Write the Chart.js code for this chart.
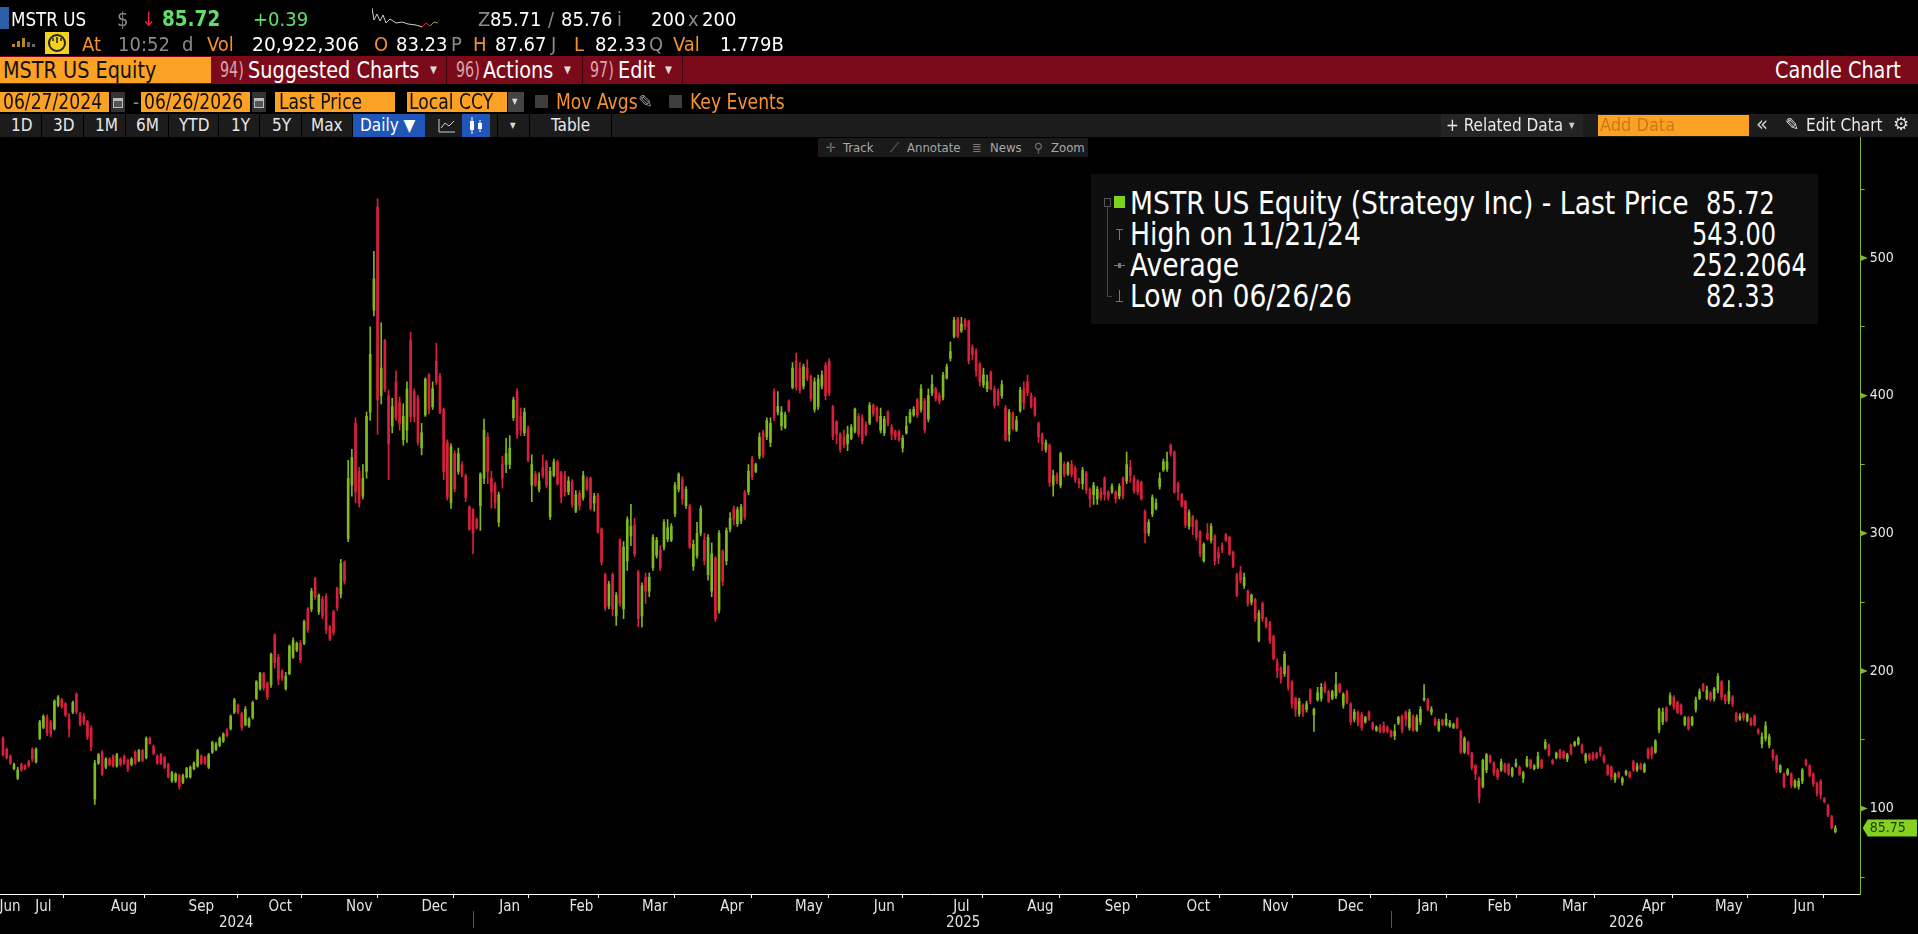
<!DOCTYPE html>
<html><head><meta charset="utf-8">
<style>
html,body{margin:0;padding:0;background:#000;width:1918px;height:934px;overflow:hidden}
#c{position:absolute;left:0;top:0}
.t{position:absolute;white-space:pre;font-family:"Liberation Sans Narrow","DejaVu Sans Condensed",sans-serif;color:#fff;line-height:1;transform-origin:left center}
.b{position:absolute}
.o{color:#f5922b}.g{color:#8a8a8a}.k{color:#111}
.f{font-size:20px}
.m{font-size:17px;color:#e8e8e8}
.s{font-size:13px;color:#a8a8a8}
.lb{font-size:32px;color:#fff;transform:scaleX(.925)}
.lv{font-size:32px;color:#fff;transform:scaleX(.835)}
.n{font-size:22px;color:#d9a3ab;transform:scaleX(.72)}
.h{font-size:23px;transform:scaleX(.93)}
.d{font-size:21px;transform:scaleX(.91)}
.sep{position:absolute;top:114px;width:1px;height:23px;background:#000}
</style></head><body>
<canvas id="c" width="1918" height="934"></canvas>

<!-- quote rows -->
<div class="b" style="left:0;top:7px;width:9px;height:22px;background:#2a5fa8"></div>
<span class="t f" style="left:11px;top:9px;transform:scaleX(.93)">MSTR US</span>
<span class="t f g" style="left:117px;top:9px">$</span>
<span class="t f" style="left:141px;top:9px;color:#e8203e">↓</span>
<span class="t f" style="left:162px;top:8px;font-weight:bold;color:#5fe06a;font-size:22px;transform:scaleX(.93)">85.72</span>
<span class="t f" style="left:253px;top:9px;color:#5fe06a">+0.39</span>
<svg class="b" style="left:372px;top:6px" width="72" height="24"><polyline fill="none" stroke="#ccc" stroke-width="1" points="0,2 2,14 5,8 8,15 11,9 14,17 18,13 24,17 30,16 36,18 44,19 50,21"/><polyline fill="none" stroke="#e8203e" stroke-width="1" points="50,21 54,17 58,20"/><polyline fill="none" stroke="#6dbb2a" stroke-width="1" points="58,20 62,16 66,17"/></svg>
<span class="t f g" style="left:478px;top:9px">Z</span>
<span class="t f" style="left:490px;top:9px">85.71</span>
<span class="t f g" style="left:548px;top:9px">/</span>
<span class="t f" style="left:561px;top:9px">85.76</span>
<span class="t f g" style="left:617px;top:9px">i</span>
<span class="t f" style="left:651px;top:9px">200</span>
<span class="t f g" style="left:688px;top:9px">x</span>
<span class="t f" style="left:702px;top:9px">200</span>

<svg class="b" style="left:12px;top:36px" width="24" height="12"><rect x="0" y="8" width="3" height="3" fill="#b8881e"/><rect x="5" y="5" width="3" height="6" fill="#b8881e"/><rect x="10" y="2" width="3" height="9" fill="#b8881e"/><rect x="15" y="6" width="3" height="5" fill="#666"/><rect x="20" y="8" width="3" height="3" fill="#666"/></svg>
<svg class="b" style="left:45px;top:32px" width="24" height="22"><rect width="24" height="22" fill="#f2d21f"/><circle cx="12" cy="11" r="8" fill="none" stroke="#222" stroke-width="2"/><path d="M12 11V5M8 9V6M16 9V6" stroke="#222" stroke-width="1.5"/></svg>
<span class="t f o" style="left:82px;top:34px">At</span>
<span class="t f g" style="left:118px;top:34px">10:52</span>
<span class="t f g" style="left:182px;top:34px">d</span>
<span class="t f o" style="left:207px;top:34px">Vol</span>
<span class="t f" style="left:252px;top:34px;transform:scaleX(1.04)">20,922,306</span>
<span class="t f o" style="left:374px;top:34px">O</span>
<span class="t f" style="left:396px;top:34px">83.23</span>
<span class="t f g" style="left:451px;top:34px">P</span>
<span class="t f o" style="left:473px;top:34px">H</span>
<span class="t f" style="left:495px;top:34px">87.67</span>
<span class="t f g" style="left:551px;top:34px">J</span>
<span class="t f o" style="left:574px;top:34px">L</span>
<span class="t f" style="left:595px;top:34px">82.33</span>
<span class="t f g" style="left:649px;top:34px">Q</span>
<span class="t f o" style="left:673px;top:34px">Val</span>
<span class="t f" style="left:720px;top:34px">1.779B</span>

<!-- red bar -->
<div class="b" style="left:0;top:56px;width:1918px;height:28px;background:#7b0b1b"></div>
<div class="b" style="left:0;top:57px;width:211px;height:26px;background:#fba124"></div>
<span class="t k h" style="left:3px;top:59px">MSTR US Equity</span>
<span class="t n" style="left:220px;top:59px">94)</span>
<span class="t h" style="left:248px;top:59px">Suggested Charts</span>
<span class="t" style="left:430px;top:65px;font-size:10px;color:#ddd">▼</span>
<div class="b" style="left:446px;top:56px;width:1px;height:28px;background:#3c0410"></div>
<span class="t n" style="left:456px;top:59px">96)</span>
<span class="t h" style="left:483px;top:59px">Actions</span>
<span class="t" style="left:564px;top:65px;font-size:10px;color:#ddd">▼</span>
<div class="b" style="left:582px;top:56px;width:1px;height:28px;background:#3c0410"></div>
<span class="t n" style="left:590px;top:59px">97)</span>
<span class="t h" style="left:618px;top:59px">Edit</span>
<span class="t" style="left:665px;top:65px;font-size:10px;color:#ddd">▼</span>
<div class="b" style="left:682px;top:56px;width:1px;height:28px;background:#3c0410"></div>
<span class="t h" style="left:1775px;top:59px">Candle Chart</span>

<!-- date row -->
<div class="b" style="left:0;top:92px;width:109px;height:20px;background:#fba124"></div>
<span class="t k d" style="left:3px;top:92px">06/27/2024</span>
<div class="b" style="left:111px;top:92px;width:14px;height:20px;background:#333"></div>
<svg class="b" style="left:113px;top:96px" width="10" height="12"><rect x="0" y="2" width="10" height="10" fill="#bbb"/><rect x="1" y="5" width="8" height="6" fill="#555"/></svg>
<span class="t g" style="left:133px;top:93px;font-size:19px">-</span>
<div class="b" style="left:141px;top:92px;width:109px;height:20px;background:#fba124"></div>
<span class="t k d" style="left:144px;top:92px">06/26/2026</span>
<div class="b" style="left:252px;top:92px;width:14px;height:20px;background:#333"></div>
<svg class="b" style="left:254px;top:96px" width="10" height="12"><rect x="0" y="2" width="10" height="10" fill="#bbb"/><rect x="1" y="5" width="8" height="6" fill="#555"/></svg>
<div class="b" style="left:275px;top:92px;width:120px;height:20px;background:#fba124"></div>
<span class="t k d" style="left:279px;top:92px">Last Price</span>
<div class="b" style="left:407px;top:92px;width:100px;height:20px;background:#fba124"></div>
<span class="t k d" style="left:409px;top:92px">Local CCY</span>
<div class="b" style="left:508px;top:92px;width:16px;height:20px;background:#444"></div>
<span class="t" style="left:512px;top:98px;font-size:8px;color:#ddd">▼</span>
<div class="b" style="left:535px;top:95px;width:13px;height:13px;background:#3e3e3e"></div>
<span class="t o d" style="left:556px;top:92px">Mov Avgs</span>
<span class="t" style="left:638px;top:93px;font-size:18px;color:#999;font-family:'DejaVu Sans'">✎</span>
<div class="b" style="left:669px;top:95px;width:13px;height:13px;background:#3e3e3e"></div>
<span class="t o d" style="left:690px;top:92px">Key Events</span>

<!-- tool row -->
<div class="b" style="left:0;top:114px;width:1918px;height:23px;background:#1c1c1c"></div>
<div class="sep" style="left:41px"></div><div class="sep" style="left:83px"></div><div class="sep" style="left:125px"></div><div class="sep" style="left:168px"></div><div class="sep" style="left:218px"></div><div class="sep" style="left:259px"></div><div class="sep" style="left:301px"></div><div class="sep" style="left:352px"></div><div class="sep" style="left:497px"></div><div class="sep" style="left:529px"></div><div class="sep" style="left:611px"></div>
<span class="t m" style="left:11px;top:117px">1D</span>
<span class="t m" style="left:53px;top:117px">3D</span>
<span class="t m" style="left:95px;top:117px">1M</span>
<span class="t m" style="left:136px;top:117px">6M</span>
<span class="t m" style="left:179px;top:117px">YTD</span>
<span class="t m" style="left:231px;top:117px">1Y</span>
<span class="t m" style="left:272px;top:117px">5Y</span>
<span class="t m" style="left:311px;top:117px">Max</span>
<div class="b" style="left:353px;top:114px;width:72px;height:23px;background:#1f56b8"></div>
<span class="t m" style="left:360px;top:117px;color:#fff">Daily ▼</span>
<svg class="b" style="left:438px;top:118px" width="18" height="15"><path d="M1 1V14H17" fill="none" stroke="#ccc"/><path d="M3 10L7 5L11 8L16 3" fill="none" stroke="#ccc"/></svg>
<div class="b" style="left:462px;top:114px;width:28px;height:23px;background:#1f56b8"></div>
<svg class="b" style="left:467px;top:116px" width="18" height="19"><path d="M5 1V18M13 4V16" stroke="#fff"/><rect x="3" y="5" width="4" height="9" fill="#fff"/><rect x="11" y="7" width="4" height="6" fill="#fff"/></svg>
<span class="t" style="left:510px;top:122px;font-size:8px;color:#ddd">▼</span>
<span class="t m" style="left:551px;top:117px">Table</span>
<div class="b" style="left:1441px;top:114px;width:142px;height:23px;background:#242424"></div>
<span class="t m" style="left:1446px;top:117px">+ Related Data</span>
<span class="t" style="left:1569px;top:122px;font-size:8px;color:#ccc">▼</span>
<div class="b" style="left:1598px;top:115px;width:151px;height:21px;background:#fba124"></div>
<span class="t" style="left:1600px;top:116px;font-size:18px;color:#c97a18">Add Data</span>
<span class="t" style="left:1756px;top:113px;font-size:22px;color:#ccc">«</span>
<span class="t" style="left:1785px;top:116px;font-size:17px;color:#ddd;font-family:'DejaVu Sans'">✎</span>
<span class="t m" style="left:1806px;top:117px">Edit Chart</span>
<span class="t" style="left:1893px;top:115px;font-size:18px;color:#ddd;font-family:'DejaVu Sans'">⚙</span>

<!-- mini toolbar -->
<div class="b" style="left:818px;top:138px;width:270px;height:19px;background:#1a1a1a"></div>
<span class="t s" style="left:826px;top:141px;color:#777">✛</span>
<span class="t s" style="left:843px;top:141px">Track</span>
<span class="t s" style="left:890px;top:141px;color:#777">⟋</span>
<span class="t s" style="left:907px;top:141px">Annotate</span>
<span class="t s" style="left:972px;top:141px;color:#777">≣</span>
<span class="t s" style="left:990px;top:141px">News</span>
<span class="t s" style="left:1034px;top:141px;color:#777">⚲</span>
<span class="t s" style="left:1051px;top:141px">Zoom</span>

<!-- legend -->
<div class="b" style="left:1091px;top:174px;width:727px;height:150px;background:#0e0e0e"></div>
<div class="b" style="left:1114px;top:196px;width:11px;height:12px;background:#7ed321"></div>
<div class="b" style="left:1104px;top:198px;width:7px;height:9px;border:1px solid #555;box-sizing:border-box"></div>
<div class="b" style="left:1107px;top:207px;width:1px;height:89px;background:#444"></div>
<div class="b" style="left:1107px;top:296px;width:5px;height:1px;background:#444"></div>
<div class="b" style="left:1119px;top:229px;width:1px;height:11px;background:#777"></div><div class="b" style="left:1116px;top:229px;width:7px;height:1px;background:#777"></div>
<div class="b" style="left:1114px;top:265px;width:11px;height:1px;background:#777"></div><div class="b" style="left:1118px;top:263px;width:3px;height:5px;background:#777"></div>
<div class="b" style="left:1119px;top:290px;width:1px;height:11px;background:#777"></div><div class="b" style="left:1116px;top:301px;width:7px;height:1px;background:#777"></div>
<span class="t lb" style="left:1130px;top:187px">MSTR US Equity (Strategy Inc) - Last Price</span>
<span class="t lv" style="left:1706px;top:187px">85.72</span>
<span class="t lb" style="left:1130px;top:218px">High on 11/21/24</span>
<span class="t lv" style="left:1692px;top:218px">543.00</span>
<span class="t lb" style="left:1130px;top:249px">Average</span>
<span class="t lv" style="left:1692px;top:249px">252.2064</span>
<span class="t lb" style="left:1130px;top:280px">Low on 06/26/26</span>
<span class="t lv" style="left:1706px;top:280px">82.33</span>

<script src="https://cdn.jsdelivr.net/npm/chart.js@4/dist/chart.umd.min.js"></script>
<script>
const opens=[
151,143,138,129,122,132,131,134,143,134,
151,159,166,163,158,175,179,176,165,170,
183,169,167,163,158,107,133,141,130,136,
138,131,136,138,135,132,141,135,142,137,
151,145,138,139,137,132,120,120,124,119,
123,123,129,131,138,137,130,141,143,146,
149,157,158,170,175,169,161,160,166,180,
187,198,191,190,226,210,200,187,198,210,
215,220,220,245,245,267,243,252,254,232,
243,260,256,279,296,335,380,345,327,345,
388,462,537,400,440,400,378,410,395,368,
375,440,403,398,362,386,415,392,425,414,
390,366,322,358,345,350,342,319,317,310,
320,340,370,340,335,308,350,350,350,384,
403,385,373,376,335,343,332,348,352,312,
342,352,344,342,330,337,316,329,326,339,
340,322,328,303,270,247,270,240,295,245,
280,298,306,272,240,268,258,275,284,288,
290,296,295,314,332,339,320,320,276,284,
300,295,270,258,282,244,287,280,303,318,
307,309,330,330,354,345,356,373,370,366,
403,388,378,377,396,406,425,420,407,420,
414,390,392,407,422,425,392,381,372,370,
365,369,374,385,384,379,380,393,391,375,
373,388,377,374,374,362,373,381,386,397,
390,396,383,402,405,400,399,413,427,443,
456,447,455,454,435,432,423,408,405,417,
405,403,400,391,372,387,375,389,405,410,
400,398,380,372,361,364,335,342,335,350,
343,350,347,338,336,344,332,328,325,330,
340,330,330,330,327,340,338,348,340,338,
337,316,300,314,318,334,346,347,364,359,
336,328,323,305,312,309,301,280,300,295,
298,286,291,299,297,286,270,272,262,258,
250,252,222,249,238,235,225,206,202,198,
203,192,180,169,175,172,186,168,179,180,
190,185,180,182,190,175,185,176,165,170,
168,163,170,162,157,159,160,159,156,153,
162,167,170,159,167,157,163,179,179,170,
165,157,164,161,160,159,165,156,141,148,
140,131,122,116,128,138,133,128,128,132,
132,124,131,130,122,131,135,129,130,135,
144,146,135,137,142,141,136,146,146,147,
146,135,139,139,140,144,138,131,130,121,
126,119,125,126,134,128,132,127,143,144,
141,157,163,173,176,181,177,175,161,166,
161,172,180,190,180,184,180,186,192,182,
178,181,169,165,169,164,165,167,157,147,
151,146,142,138,127,125,125,125,116,116,
120,135,131,125,118,120,107,102,94,83.23];
const highs=[
152,144,139,133,130,133,132,135,144,144,
164,168,168,164,179,182,180,177,169,178,
184,170,169,164,160,135,140,142,137,137,
139,140,137,139,136,137,142,143,143,152,
152,146,139,140,138,133,127,126,125,125,
130,131,134,143,139,138,140,149,148,152,
155,158,168,180,176,170,174,166,178,193,
199,199,192,213,227,212,201,199,219,224,
221,222,237,246,260,268,256,254,256,233,
244,261,281,280,353,361,384,348,350,388,
450,505,543,453,441,404,398,418,399,394,
410,446,405,400,380,413,416,410,438,416,
391,368,365,360,362,352,343,320,318,311,
344,383,373,345,337,330,356,369,371,399,
405,391,391,378,357,345,344,357,353,348,
354,353,345,345,341,339,331,331,345,341,
341,329,329,304,271,265,271,257,296,294,
312,321,311,273,264,271,271,299,297,291,
310,310,307,337,344,341,334,321,295,308,
320,300,299,293,283,302,288,304,315,320,
319,321,331,350,356,351,373,375,384,384,
405,403,392,388,397,424,431,424,423,426,
415,413,415,418,424,427,393,382,373,375,
378,379,391,387,386,381,395,394,392,391,
385,389,379,375,375,371,385,390,392,398,
408,398,405,415,406,402,417,423,439,457,
457,457,456,455,437,434,424,420,415,418,
407,405,411,393,390,388,385,406,410,415,
402,399,381,373,368,365,346,344,359,352,
352,353,349,340,348,345,333,337,334,333,
341,331,336,331,336,341,359,353,342,339,
338,317,310,328,325,344,354,359,365,360,
337,329,324,317,313,310,302,293,307,307,
299,290,293,300,298,287,271,276,271,259,
256,253,244,250,239,236,226,209,203,214,
204,193,181,180,176,178,187,173,188,191,
192,186,186,199,191,184,186,177,172,171,
170,167,171,163,160,161,163,160,157,161,
167,168,171,172,168,168,174,190,180,174,
166,165,165,169,164,162,166,157,152,149,
141,132,123,136,140,139,134,129,136,133,
133,130,136,131,127,138,136,132,141,136,
150,147,136,141,143,142,140,147,149,152,
147,140,140,141,141,145,139,132,131,126,
127,123,128,127,135,133,133,133,144,145,
150,173,173,174,184,182,178,176,167,167,
167,181,187,191,189,185,188,198,193,183,
193,182,170,169,170,169,166,168,158,155,
163,154,143,139,132,126,129,126,121,122,
129,136,132,126,119,121,108,103,95,87.67];
const lows=[
138,136,132,128,121,127,128,130,134,133,
150,158,153,152,157,174,173,167,152,169,
169,160,161,150,142,103,132,124,129,131,
130,130,131,132,127,131,132,134,134,136,
147,139,132,132,129,122,119,119,114,118,
122,122,128,130,132,132,129,140,142,145,
148,152,157,169,169,157,160,159,165,179,
186,186,179,188,202,190,193,186,197,209,
214,206,219,228,243,252,241,238,227,222,
226,244,253,263,294,327,322,319,325,340,
382,458,372,394,403,339,373,382,375,364,
366,381,381,364,357,385,387,390,408,387,
339,324,318,330,343,341,323,302,285,303,
302,336,336,318,318,305,333,344,347,382,
369,371,371,352,323,334,330,340,333,310,
341,335,322,327,328,319,315,317,324,331,
317,316,300,277,244,245,240,233,247,238,
273,291,283,232,232,249,254,273,282,273,
288,294,294,312,330,321,318,289,273,282,
298,277,266,254,236,242,262,277,301,306,
305,307,310,328,339,344,354,355,368,363,
382,386,375,376,388,405,404,402,405,411,
396,388,390,405,397,400,368,365,359,362,
360,368,373,370,365,371,379,385,381,373,
371,378,368,368,367,359,372,380,385,384,
388,373,381,400,396,394,397,412,425,442,
442,446,448,423,426,414,407,406,403,404,
391,393,398,367,367,375,374,388,390,400,
391,385,366,360,359,334,327,336,333,341,
342,341,337,333,332,329,319,321,321,324,
324,324,329,322,325,325,336,337,329,328,
324,293,298,312,317,332,345,345,356,329,
324,319,304,303,299,295,283,279,295,293,
277,278,286,294,284,275,254,264,260,247,
248,236,221,236,231,220,208,195,191,196,
186,173,167,167,167,170,176,156,178,178,
184,177,179,180,184,173,176,161,163,160,
157,162,164,157,156,155,155,155,152,150,
161,155,160,157,156,156,161,178,171,168,
160,156,160,160,159,158,158,140,140,139,
128,121,104,115,126,133,124,121,127,126,
124,123,130,124,119,130,129,128,129,129,
143,138,132,136,136,136,134,139,145,146,
140,133,135,135,136,138,133,124,121,119,
122,117,124,122,127,127,128,126,136,136,
140,155,161,163,175,172,169,168,160,157,
160,170,179,185,179,178,178,184,179,176,
176,174,163,164,164,163,160,160,154,144,
149,144,135,126,126,115,124,115,115,114,
118,131,123,116,109,107,104,94,85,82.33];
const closes=[
139,137,133,132,128,128,129,131,136,143,
163,167,155,154,178,181,174,168,158,177,
170,161,163,152,145,133,139,125,136,132,
131,139,132,133,129,136,133,142,135,151,
147,140,133,133,130,123,126,125,116,124,
129,130,133,142,133,133,139,148,147,151,
154,153,167,179,170,159,172,165,177,192,
198,188,181,212,206,194,195,196,218,222,
220,208,236,230,258,254,255,240,230,223,
228,246,278,265,340,355,330,322,340,385,
430,485,397,420,405,365,392,384,380,385,
405,385,385,366,373,412,390,405,410,388,
345,326,363,332,358,342,326,303,300,304,
343,375,345,330,322,328,340,358,362,397,
372,375,388,353,350,335,338,342,335,345,
352,336,326,330,338,321,328,320,342,332,
318,327,301,279,246,263,245,255,249,290,
310,305,285,238,262,258,268,297,295,275,
308,304,305,335,343,325,332,290,292,300,
318,280,297,285,238,300,265,302,311,310,
317,319,312,345,341,350,370,357,382,380,
384,392,388,386,389,420,406,404,421,413,
398,410,412,415,400,402,370,372,361,364,
372,377,390,372,367,372,393,387,382,385,
383,380,372,370,368,369,378,388,390,386,
405,375,400,408,398,396,415,421,432,455,
443,452,450,425,430,418,410,415,410,405,
393,396,408,368,388,376,382,404,395,402,
392,386,370,365,366,337,342,338,358,343,
351,343,339,336,346,331,325,335,332,326,
328,326,334,325,334,327,350,342,331,330,
325,300,308,326,322,340,352,352,358,330,
330,320,306,315,305,297,285,292,296,305,
280,282,288,295,285,276,255,266,268,249,
255,238,242,238,232,222,209,200,194,212,
188,176,172,178,170,176,178,172,184,188,
185,178,185,190,185,183,177,163,170,162,
159,166,165,158,159,156,156,156,152,156,
166,157,165,170,157,166,172,180,172,172,
161,163,161,165,162,161,159,141,151,140,
130,125,108,135,139,134,126,123,134,127,
125,129,133,125,126,136,130,131,138,130,
148,139,133,140,137,137,139,140,148,151,
141,139,136,136,137,141,134,125,123,125,
123,122,127,123,128,131,129,132,137,139,
149,172,170,164,182,174,170,169,166,158,
166,179,185,186,186,179,187,196,181,178,
185,176,164,167,166,168,161,161,155,152,
160,152,137,128,131,116,128,117,120,120,
128,132,124,118,111,110,105,95,86,85.72];

// x axis: month boundaries (index of last session of the month) and label centres
const monthEnds=[0,22,44,64,87,107,128,148,167,188,209,230,250,272,293,314,337,356,378,398,417,439,460,480,501];
const monthNames=['Jul','Aug','Sep','Oct','Nov','Dec','Jan','Feb','Mar','Apr','May','Jun','Jul','Aug','Sep','Oct','Nov','Dec','Jan','Feb','Mar','Apr','May','Jun'];
const firstLabel={at:1.9,text:'Jun'};
const yearLabels=[['2024',63.5],['2025',261.5],['2026',442]];
const yearSeparators=[128,378];
const yTicks=[50,100,150,200,250,300,350,400,450,500,550];
const lastFlag=85.75;

const RED='#d81f3d',GREEN='#7fb81f',AXISG='#7fb82a';
const idx=opens.map((_,i)=>i);
const colours=idx.map(i=>closes[i]>=opens[i]?GREEN:RED);

// build tick list
const tickInfo=new Map();
monthEnds.forEach(v=>tickInfo.set(v,{label:'',mark:true}));
tickInfo.set(firstLabel.at,{label:firstLabel.text,mark:false});
monthNames.forEach((n,k)=>{tickInfo.set((monthEnds[k]+monthEnds[k+1])/2,{label:n,mark:false});});
yearLabels.forEach(([y,v])=>{tickInfo.set(v,{label:['',y],mark:false});});
const xTickValues=[...tickInfo.keys()].sort((a,b)=>a-b);

const FONT='"Liberation Sans Narrow","DejaVu Sans Condensed",sans-serif';
const decor={id:'decor',
 afterDraw(ch){
  const c=ch.ctx,sy=ch.scales.y,sx=ch.scales.x,ax=sx.right;
  c.save();
  c.fillStyle=AXISG;
  yTicks.filter(v=>v%100===0).forEach(v=>{const y=sy.getPixelForValue(v);
    c.beginPath();c.moveTo(ax,y-3);c.lineTo(ax+7,y);c.lineTo(ax,y+3);c.closePath();c.fill();});
  c.strokeStyle='#555';c.lineWidth=1;
  yearSeparators.forEach(v=>{const x=Math.round(sx.getPixelForValue(v))+.5;
    c.beginPath();c.moveTo(x,911);c.lineTo(x,928);c.stroke();});
  const y=sy.getPixelForValue(lastFlag);
  c.fillStyle='#86d01f';
  c.beginPath();c.moveTo(ax+2,y);c.lineTo(ax+7,y-8.5);c.lineTo(1917,y-8.5);c.lineTo(1917,y+8.5);c.lineTo(ax+7,y+8.5);c.closePath();c.fill();
  c.fillStyle='#1c3a06';c.font='14px '+FONT;
  c.textBaseline='middle';c.textAlign='left';c.fillText(lastFlag.toFixed(2),ax+9,y+.5);
  c.restore();
 }};

new Chart(document.getElementById('c'),{
 type:'bar',
 data:{datasets:[
  {label:'Wick',data:idx.map(i=>({x:i,y:[lows[i],highs[i]]})),backgroundColor:colours,barThickness:1,grouped:false,order:2},
  {label:'Body',data:idx.map(i=>({x:i,y:[opens[i],closes[i]]})),backgroundColor:colours,barThickness:2,grouped:false,order:1}
 ]},
 plugins:[decor],
 options:{
  responsive:false,animation:false,devicePixelRatio:1,
  layout:{padding:{top:137,left:0,right:0,bottom:0}},
  plugins:{legend:{display:false},tooltip:{enabled:false}},
  scales:{
   x:{type:'linear',min:-0.82,max:505.9,offset:false,
     afterBuildTicks(s){s.ticks=xTickValues.map(v=>({value:v}));},
     afterFit(s){s.height=40;},
     grid:{drawOnChartArea:false,drawTicks:true,tickLength:4,
       tickColor:ctx=>{const t=tickInfo.get(ctx.tick&&ctx.tick.value);return t&&t.mark?'#ffffff':'rgba(0,0,0,0)';}},
     border:{color:'#ffffff',width:1},
     ticks:{autoSkip:false,maxRotation:0,minRotation:0,color:'#e4e4e4',padding:1,
       font:{family:FONT,size:15,lineHeight:1.07},
       callback:v=>{const t=tickInfo.get(v);return t?t.label:'';}}},
   y:{type:'linear',position:'right',min:37.86,max:588,
     afterBuildTicks(s){s.ticks=yTicks.map(v=>({value:v}));},
     afterFit(s){s.width=57.3;},
     grid:{drawOnChartArea:false,drawTicks:true,tickLength:4,tickColor:AXISG},
     border:{color:AXISG,width:1},
     ticks:{color:'#e8e8e8',padding:5,align:'center',
       font:{family:FONT,size:14},
       callback:v=>v%100===0?String(v):''}}
  }
 }
});
</script>
</body></html>
